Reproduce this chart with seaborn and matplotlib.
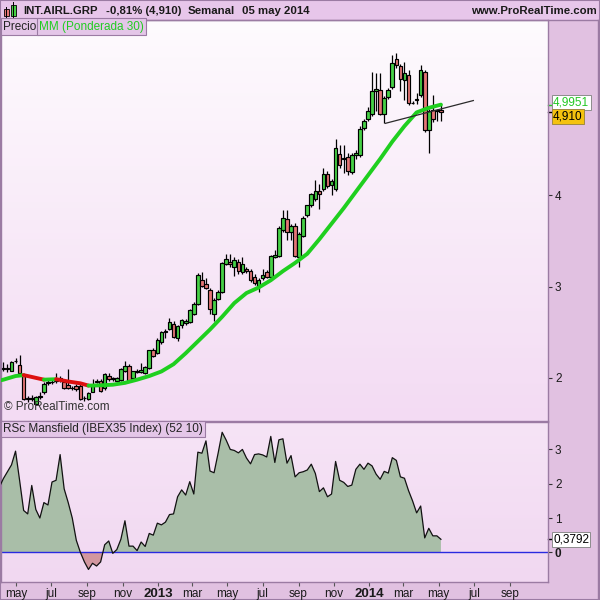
import numpy as np
import pandas as pd
import matplotlib
matplotlib.use("Agg")
import matplotlib.pyplot as plt
import matplotlib.transforms as mtransforms
from matplotlib.patches import Rectangle
from matplotlib.lines import Line2D
import seaborn as sns

plt.rcParams['font.family'] = ['Liberation Sans', 'DejaVu Sans']

# ---------------- data ----------------
first_week = "2012-04-09"
last_week = "2014-05-05"

opens = [2.10, 2.11, 2.08, 2.18, 2.14, 2.02, 1.77, 1.78, 1.71, 1.79,
         1.84, 1.94, 1.95, 1.97, 1.99, 1.95, 1.92, 1.89, 1.91, 1.91,
         1.78, 1.77, 1.85, 1.96, 1.97, 1.89, 2.02, 1.99, 1.97, 1.98,
         2.08, 2.13, 2.00, 2.08, 2.06, 2.05, 2.11, 2.30, 2.27, 2.39,
         2.50, 2.535, 2.59, 2.44, 2.58, 2.60, 2.615, 2.70, 2.81, 3.07,
         3.03, 2.96, 2.705, 2.865, 2.94, 3.25, 3.27, 3.22, 3.27, 3.16,
         3.19, 3.17, 3.11, 3.01, 3.09, 3.16, 3.11, 3.33, 3.34, 3.62,
         3.74, 3.60, 3.67, 3.33, 3.56, 3.78, 3.89, 3.96, 4.05, 4.07,
         4.24, 4.11, 4.07, 4.45, 4.40, 4.42, 4.26, 4.44, 4.44, 4.74,
         4.84, 4.89, 5.15, 5.16, 4.89, 5.08, 5.19, 5.49, 5.42, 5.27,
         5.32, 5.01, 5.05, 5.10, 5.35, 4.72, 4.94, 4.92, 4.94]
highs = [2.17, 2.15, 2.19, 2.22, 2.25, 2.04, 1.80, 1.81, 1.80, 1.84,
         1.95, 2.00, 2.00, 2.05, 2.02, 1.98, 2.10, 1.91, 1.93, 1.93,
         1.80, 1.85, 1.99, 1.99, 1.99, 2.05, 2.05, 2.01, 2.01, 2.11,
         2.18, 2.15, 2.08, 2.10, 2.16, 2.13, 2.31, 2.33, 2.44, 2.51,
         2.54, 2.66, 2.62, 2.58, 2.64, 2.65, 2.75, 2.83, 3.15, 3.16,
         3.10, 2.99, 2.87, 2.96, 3.27, 3.36, 3.36, 3.32, 3.30, 3.32,
         3.22, 3.19, 3.14, 3.09, 3.19, 3.18, 3.35, 3.40, 3.66, 3.835,
         3.84, 3.69, 3.70, 3.60, 3.77, 3.90, 4.03, 4.17, 4.12, 4.30,
         4.27, 4.18, 4.62, 4.55, 4.55, 4.47, 4.46, 4.50, 4.76, 4.84,
         4.97, 5.35, 5.34, 5.34, 5.09, 5.18, 5.54, 5.56, 5.44, 5.46,
         5.38, 5.03, 5.12, 5.43, 5.37, 4.95, 5.10, 4.95, 5.00]
lows = [2.07, 2.06, 2.07, 2.16, 2.02, 1.76, 1.74, 1.75, 1.70, 1.77,
        1.82, 1.92, 1.93, 1.94, 1.96, 1.88, 1.88, 1.87, 1.86, 1.76,
        1.75, 1.76, 1.84, 1.94, 1.85, 1.87, 1.97, 1.97, 1.96, 1.97,
        2.06, 1.96, 1.99, 2.05, 2.05, 2.04, 2.10, 2.23, 2.26, 2.37,
        2.44, 2.52, 2.44, 2.40, 2.55, 2.58, 2.60, 2.69, 2.80, 3.00,
        2.97, 2.70, 2.62, 2.85, 2.93, 3.24, 3.22, 3.12, 3.14, 3.14,
        3.15, 3.05, 3.02, 2.94, 3.07, 3.09, 3.10, 3.31, 3.33, 3.60,
        3.51, 3.51, 3.33, 3.22, 3.54, 3.76, 3.87, 3.94, 3.85, 4.05,
        4.08, 4.00, 4.05, 4.30, 4.25, 4.22, 4.24, 4.40, 4.42, 4.72,
        4.82, 4.87, 4.93, 4.88, 4.79, 5.06, 5.17, 5.40, 5.15, 5.05,
        4.99, 5.00, 5.00, 5.08, 4.70, 4.46, 4.80, 4.82, 4.82]
closes = [2.11, 2.10, 2.17, 2.19, 2.05, 1.77, 1.78, 1.77, 1.79, 1.80,
          1.93, 1.95, 1.96, 1.99, 1.99, 1.89, 1.89, 1.89, 1.88, 1.77,
          1.78, 1.83, 1.91, 1.97, 1.86, 2.04, 1.99, 1.99, 2.00, 2.10,
          2.13, 1.97, 2.07, 2.06, 2.09, 2.12, 2.30, 2.24, 2.42, 2.50,
          2.51, 2.61, 2.45, 2.57, 2.63, 2.62, 2.74, 2.81, 3.13, 3.01,
          2.985, 2.755, 2.85, 2.94, 3.256, 3.30, 3.25, 3.29, 3.17, 3.25,
          3.17, 3.07, 3.04, 3.07, 3.13, 3.11, 3.34, 3.35, 3.645, 3.75,
          3.60, 3.67, 3.34, 3.58, 3.755, 3.89, 4.02, 4.05, 4.02, 4.23,
          4.10, 4.16, 4.52, 4.33, 4.41, 4.27, 4.44, 4.47, 4.73, 4.82,
          4.92, 5.15, 5.17, 4.89, 5.07, 5.16, 5.45, 5.43, 5.28, 5.34,
          5.01, 5.01, 5.06, 5.38, 4.72, 4.93, 4.84, 4.94, 4.91]

# weighted moving average 30, by week offset from first_week
ma_weeks = [-1, 0, 3, 5, 8, 10, 13, 16, 19, 21, 24, 27, 30, 33, 36, 39, 42, 45, 48,
            51, 54, 57, 60, 63, 66, 69, 72, 75, 78, 81, 84, 87, 90, 93, 96, 99,
            102, 105, 108]
ma_values = [1.97, 1.98, 2.02, 2.03, 2.00, 1.98, 1.985, 1.96, 1.94, 1.915, 1.918,
             1.925, 1.945, 1.98, 2.02, 2.07, 2.15, 2.27, 2.40, 2.53, 2.67, 2.82,
             2.93, 2.99, 3.07, 3.17, 3.26, 3.36, 3.52, 3.69, 3.86, 4.04, 4.22,
             4.40, 4.59, 4.76, 4.91, 4.96, 4.9951]

# RSc Mansfield, weekly values from week offset -1 to 108
rsc_values = [1.90, 2.15, 2.35, 2.55, 2.95, 2.10, 1.22, 1.12, 1.95, 1.25,
              1.00, 1.45, 1.38, 2.05, 2.10, 2.85, 1.85, 1.45, 1.00, 0.35,
              0.00, -0.28, -0.50, -0.32, -0.40, -0.28, 0.22, 0.33, -0.03, 0.08,
              0.38, 0.92, 0.18, 0.18, 0.05, 0.30, 0.17, 0.55, 0.50, 0.85,
              0.80, 0.88, 1.10, 1.12, 1.62, 1.82, 1.67, 2.06, 1.70, 2.92,
              2.89, 3.25, 2.37, 2.32, 2.89, 3.50, 3.27, 3.00, 2.97, 2.90,
              3.00, 2.75, 2.58, 2.85, 2.87, 2.84, 2.78, 3.38, 2.62, 3.28,
              3.31, 2.60, 2.82, 2.20, 2.32, 2.35, 2.40, 2.57, 2.30, 1.77,
              1.88, 1.62, 1.70, 2.65, 2.10, 2.04, 1.92, 1.96, 2.42, 2.57,
              2.42, 2.60, 2.52, 2.28, 2.13, 2.36, 2.31, 2.76, 2.68, 2.20,
              2.16, 1.80, 1.50, 1.15, 1.35, 0.42, 0.70, 0.48, 0.48, 0.3792]

# hand-drawn trend line
trend_dates = ["2014-01-29", "2014-06-30"]
trend_values = [4.79, 5.04]

month_ticks = ["2012-05-01", "2012-07-01", "2012-09-01", "2012-11-01", "2013-01-01",
               "2013-03-01", "2013-05-01", "2013-07-01", "2013-09-01", "2013-11-01",
               "2014-01-01", "2014-03-01", "2014-05-01", "2014-07-01", "2014-09-01"]
month_labels = ["may", "jul", "sep", "nov", "2013", "mar", "may", "jul", "sep",
                "nov", "2014", "mar", "may", "jul", "sep"]

price_ticks = [2, 3, 4]
rsc_ticks = [0, 1, 2, 3]
last_ma = 4.9951
last_close = 4.910
last_rsc = 0.3792

# ---------------- colours ----------------
FIG_BG = "#e1c1e1"
HEAD_BG = "#e7c6ea"
BORDER = "#9b7ba3"
GREEN_BODY = "#46d046"
RED_BODY = "#e67676"
MA_GREEN = "#1fcf1f"
MA_RED = "#dd1010"

n = len(closes)
t0 = pd.Timestamp(first_week)
dates = pd.Series(t0 + pd.to_timedelta(7 * np.arange(n), unit="D"))
ma_dates = pd.Series(t0 + pd.to_timedelta(7 * np.array(ma_weeks), unit="D"))
rsc_dates = pd.Series(t0 + pd.to_timedelta(7 * (np.arange(len(rsc_values)) - 1), unit="D"))

fig = plt.figure(figsize=(6, 6), dpi=100, facecolor=FIG_BG)


def R(x0, y0, x1, y1):
    return [x0 / 600, 1 - y1 / 600, (x1 - x0) / 600, (y1 - y0) / 600]


def gradient_bg(rect, top, bottom):
    bg = fig.add_axes(rect, zorder=0)
    c0 = np.array(matplotlib.colors.to_rgb(top))
    c1 = np.array(matplotlib.colors.to_rgb(bottom))
    tt = np.linspace(0, 1, 256)[:, None]
    img = (c0[None, :] * (1 - tt) + c1[None, :] * tt)[:, None, :]
    bg.imshow(img, aspect="auto", extent=[0, 1, 0, 1], origin="upper")
    bg.set_axis_off()
    return bg


price_rect = R(0.5, 20, 548, 421)
rsc_rect = R(0.5, 422, 548, 582)
gradient_bg(price_rect, "#fefbfe", "#f3dbf3")
gradient_bg(rsc_rect, "#f6e4f6", "#f1d8f1")

ax = fig.add_axes(price_rect, zorder=2)
ax2 = fig.add_axes(rsc_rect, zorder=2, sharex=ax)
for a in (ax, ax2):
    a.patch.set_alpha(0)
    for s in a.spines.values():
        s.set_color(BORDER)
        s.set_linewidth(1)

# ---------------- price panel ----------------
o = np.array(opens); c = np.array(closes); h = np.array(highs); l = np.array(lows)
cols = [GREEN_BODY if cc >= oo else RED_BODY for oo, cc in zip(o, c)]
ax.vlines(dates, l, h, color="black", linewidth=0.9, zorder=2)
ax.bar(dates, np.maximum(np.abs(c - o), 0.004), bottom=np.minimum(o, c), width=6.3,
       color=cols, edgecolor="black", linewidth=0.85, zorder=3)

# MA with red (falling) / green (rising) segments
mv = np.array(ma_values)
run_start = 0
for k in range(1, len(mv)):
    up = mv[k] >= mv[k - 1]
    end_run = (k == len(mv) - 1) or ((mv[k + 1] >= mv[k]) != up)
    if end_run:
        seg = slice(run_start, k + 1)
        sns.lineplot(x=ma_dates[seg], y=mv[seg], ax=ax, color=MA_GREEN if up else MA_RED,
                     linewidth=2.8, zorder=4, solid_capstyle="round")
        run_start = k

ax.plot(pd.to_datetime(trend_dates), trend_values, color="#2a2a2a", linewidth=0.9, zorder=5)

xmin = pd.Timestamp(last_week) - pd.Timedelta(days=761)
xmax = pd.Timestamp(last_week) + pd.Timedelta(days=185)
ax.set_xlim(xmin, xmax)
ax.set_ylim(1.527, 5.923)
ax.set_xlabel(""); ax.set_ylabel("")
ax.tick_params(axis="x", bottom=False, labelbottom=False)
ax.yaxis.tick_right()
ax.set_yticks(price_ticks)
ax.set_yticklabels([str(v) for v in price_ticks])
ax.tick_params(axis="y", direction="out", length=3, width=0.8, color="#333333",
               labelsize=8.5, labelcolor="#1a1a1a", pad=2)

blend = mtransforms.blended_transform_factory(ax.transAxes, ax.transData)
ax.plot([1.0, 1.009], [last_ma, last_ma], transform=blend, color=MA_GREEN, lw=1, clip_on=False)
ax.plot([1.0, 1.009], [last_close, last_close], transform=blend, color="black", lw=1, clip_on=False)
ax.annotate("4,9951", xy=(1, last_ma), xycoords=blend, xytext=(3.6, 1.6),
            textcoords="offset points", ha="left", va="center", fontsize=8.5, color="#22c822",
            bbox=dict(boxstyle="square,pad=0.12", fc="white", ec="#8c8c8c", lw=0.7),
            annotation_clip=False)
ax.annotate("4,910", xy=(1, last_close), xycoords=blend, xytext=(3.6, -3.0),
            textcoords="offset points", ha="left", va="center", fontsize=8.5, color="black",
            bbox=dict(boxstyle="square,pad=0.12", fc="#f4c20f", ec="#a08a40", lw=0.7),
            annotation_clip=False)

ax.text(0.005, 0.9985, "Precio", transform=ax.transAxes, ha="left", va="top", fontsize=8.5,
        color="#222222", bbox=dict(boxstyle="square,pad=0.18", fc="#e4c6e8", ec=BORDER, lw=0.8))
ax.text(0.071, 0.9985, "MM (Ponderada 30)", transform=ax.transAxes, ha="left", va="top",
        fontsize=8.5, color="#22cc22",
        bbox=dict(boxstyle="square,pad=0.18", fc="#e4c6e8", ec=BORDER, lw=0.8))
ax.text(0.006, 0.02, "\u00a9 ProRealTime.com", transform=ax.transAxes, ha="left", va="bottom",
        fontsize=8.5, color="#333333")

# ---------------- RSc Mansfield panel ----------------
rv = np.array(rsc_values)
ax2.fill_between(rsc_dates, rv, 0, where=rv >= 0, interpolate=True, color="#a9bea8", zorder=1, lw=0)
ax2.fill_between(rsc_dates, rv, 0, where=rv <= 0, interpolate=True, color="#d2979f", zorder=1, lw=0)
sns.lineplot(x=rsc_dates, y=rv, ax=ax2, color="#111111", linewidth=0.9, zorder=3)
ax2.axhline(0, color="#2a2ae0", linewidth=1.0, zorder=2)
ax2.set_ylim(-0.866, 3.80)
ax2.set_xlim(xmin, xmax)
ax2.set_xlabel(""); ax2.set_ylabel("")
ax2.yaxis.tick_right()
ax2.set_yticks(rsc_ticks)
ax2.set_yticklabels([str(v) for v in rsc_ticks])
ax2.tick_params(axis="y", direction="out", length=3, width=0.8, color="#333333",
                labelsize=8.5, labelcolor="#1a1a1a", pad=2)
for lab in ax2.get_yticklabels():
    if lab.get_text() == "0":
        lab.set_fontweight("bold")
blend2 = mtransforms.blended_transform_factory(ax2.transAxes, ax2.transData)
ax2.plot([1.0, 1.009], [last_rsc, last_rsc], transform=blend2, color="black", lw=1, clip_on=False)
ax2.annotate("0,3792", xy=(1, last_rsc), xycoords=blend2, xytext=(3.6, 0),
             textcoords="offset points", ha="left", va="center", fontsize=8.5, color="black",
             bbox=dict(boxstyle="square,pad=0.12", fc="white", ec="#8c8c8c", lw=0.7),
             annotation_clip=False)
ax2.text(0.004, 0.995, "RSc Mansfield (IBEX35 Index) (52 10)", transform=ax2.transAxes,
         ha="left", va="top", fontsize=8.5, color="#222222",
         bbox=dict(boxstyle="square,pad=0.18", fc="#e4c6e8", ec=BORDER, lw=0.8))

ax2.set_xticks(pd.to_datetime(month_ticks))
ax2.set_xticklabels(month_labels)
ax2.tick_params(axis="x", direction="out", length=3, width=0.8, color="#555555",
                labelsize=8.5, labelcolor="#1a1a1a", pad=1)
for lab in ax2.get_xticklabels():
    if lab.get_text() in ("2013", "2014"):
        lab.set_fontweight("bold")
        lab.set_fontsize(9.5)

# ---------------- header & frame ----------------
fig.add_artist(Rectangle((0, 1 - 20 / 600), 1, 20 / 600, transform=fig.transFigure,
                         fc=HEAD_BG, ec="none", zorder=1))
fig.add_artist(Line2D([0, 1], [1 - 20 / 600] * 2, transform=fig.transFigure, color=BORDER, lw=1))
fig.add_artist(Line2D([597.5 / 600] * 2, [0, 1 - 20 / 600], transform=fig.transFigure,
                      color=BORDER, lw=1))
fig.add_artist(Rectangle((0, 0), 1, 1, transform=fig.transFigure, fc="none", ec=BORDER, lw=1.5))
# little candle icon
fig.add_artist(Line2D([6 / 600] * 2, [1 - 18 / 600, 1 - 7 / 600], transform=fig.transFigure,
                      color="black", lw=0.7))
fig.add_artist(Rectangle((3.5 / 600, 1 - 16 / 600), 5 / 600, 7 / 600, transform=fig.transFigure,
                         fc=RED_BODY, ec="black", lw=0.6))
fig.add_artist(Line2D([13 / 600] * 2, [1 - 18 / 600, 1 - 2 / 600], transform=fig.transFigure,
                      color="black", lw=0.7))
fig.add_artist(Rectangle((10.5 / 600, 1 - 16 / 600), 5 / 600, 11 / 600, transform=fig.transFigure,
                         fc=GREEN_BODY, ec="black", lw=0.6))

hy = 1 - 10.5 / 600
HFS = 8.2
fig.text(23 / 600, hy, "INT.AIRL.GRP", fontsize=HFS, fontweight="bold", color="#1a1a1a", va="center")
fig.text(106 / 600, hy, "-0,81% (4,910)", fontsize=HFS, fontweight="bold", color="#1a1a1a", va="center")
fig.text(188 / 600, hy, "Semanal", fontsize=HFS, fontweight="bold", color="#1a1a1a", va="center")
fig.text(242 / 600, hy, "05 may 2014", fontsize=HFS, fontweight="bold", color="#1a1a1a", va="center")
fig.text(597 / 600, hy, "www.ProRealTime.com", fontsize=HFS, fontweight="bold", color="#1a1a1a",
         va="center", ha="right")

fig.savefig("out.png", dpi=100, facecolor=FIG_BG)
